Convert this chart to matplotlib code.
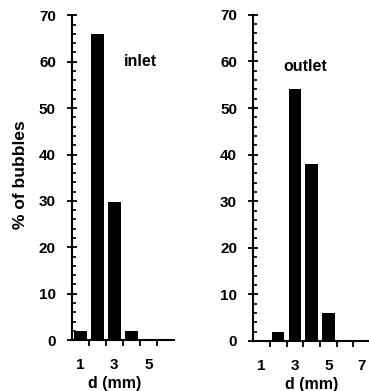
import numpy as np
import matplotlib
matplotlib.use("Agg")
import matplotlib.pyplot as plt
from matplotlib.ticker import MultipleLocator, FixedLocator

# bubble diameter classes (mm) and share of bubbles (%)
inlet_d = [1, 2, 3, 4, 5, 6]
inlet_pct = [2, 66, 29.7, 2, 0.3, 0.1]
outlet_d = [1, 2, 3, 4, 5, 6, 7]
outlet_pct = [0, 2, 54, 38, 6, 0, 0]
inlet_labels = [1, 3, 5]
outlet_labels = [1, 3, 5, 7]

plt.rcParams['font.family'] = ['Liberation Sans', 'DejaVu Sans']
plt.rcParams['font.weight'] = 'bold'
plt.rcParams['font.size'] = 11

fig = plt.figure(figsize=(3.69, 3.91), dpi=100)
ax1 = fig.add_axes([0.195, 0.130, 0.276, 0.831])
ax2 = fig.add_axes([0.686, 0.128, 0.317, 0.834])


def style(ax, d, pct, labels, name, nx, ny):
    ax.bar(d, pct, width=0.74, color='black')
    ax.set_xlim(0.5, len(d) + 0.5)
    ax.set_ylim(0, 70)
    for s in ['top', 'right']:
        ax.spines[s].set_visible(False)
    for s in ['left', 'bottom']:
        ax.spines[s].set_linewidth(1.5)
    # y axis: labelled majors every 10, minors every 2
    ax.yaxis.set_major_locator(MultipleLocator(10))
    ax.yaxis.set_minor_locator(MultipleLocator(2))
    ax.tick_params(axis='y', which='major', direction='inout', length=7,
                   width=1.3, pad=8, labelsize=11)
    ax.tick_params(axis='y', which='minor', direction='in', length=3, width=1.2)
    # x axis: ticks on class boundaries, labels under class centres
    ax.xaxis.set_major_locator(FixedLocator(np.arange(1.5, len(d), 1.0)))
    ax.xaxis.set_minor_locator(FixedLocator(labels))
    ax.xaxis.set_major_formatter(plt.NullFormatter())
    ax.xaxis.set_minor_formatter(plt.FixedFormatter([str(v) for v in labels]))
    ax.tick_params(axis='x', which='major', direction='out', length=4, width=1.3)
    ax.tick_params(axis='x', which='minor', length=0, pad=13, labelsize=11)
    ax.text(nx, ny, name, ha='center', va='center', fontsize=11.5, fontweight='bold')
    ax.set_xlabel('d (mm)', fontsize=11.5, fontweight='bold')
    for t in ax.get_yticklabels():
        t.set_fontweight('bold')


style(ax1, inlet_d, inlet_pct, inlet_labels, 'inlet', 4.56, 60)
style(ax2, outlet_d, outlet_pct, outlet_labels, 'outlet', 3.6, 59)

ax1.xaxis.set_label_coords(0.42, -0.11)
ax2.xaxis.set_label_coords(0.50, -0.11)
ax1.set_ylabel('% of bubbles', fontsize=12.5, fontweight='bold')
ax1.yaxis.set_label_coords(-0.43, 0.51)

fig.savefig('out.png', dpi=100)
